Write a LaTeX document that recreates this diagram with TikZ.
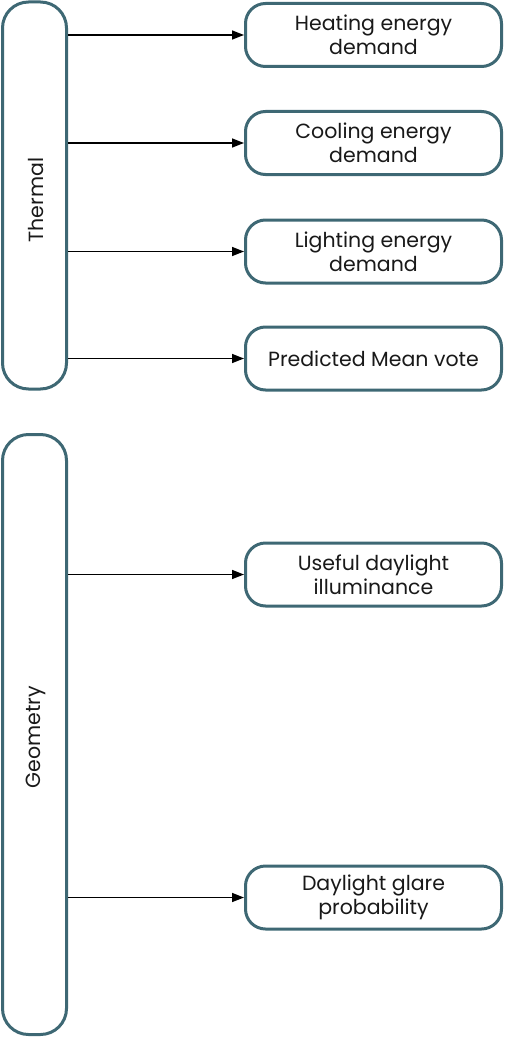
\documentclass[tikz,border=0pt]{standalone}
\usepackage{fontspec}
\setmainfont{Poppins}
\usetikzlibrary{arrows.meta}
\definecolor{frame}{RGB}{62,104,116}
\definecolor{ink}{RGB}{25,25,25}
\begin{document}
\begin{tikzpicture}[x=1pt,y=-1pt,
  groupbox/.style={draw=frame, line width=3pt, rounded corners=26pt,
    minimum width=64pt, inner sep=0pt, fill=white},
  metricbox/.style={draw=frame, line width=3pt, rounded corners=20pt,
    minimum width=256pt, minimum height=63pt, align=center, inner sep=0pt,
    font=\fontsize{20.5}{24}\selectfont, text=ink, fill=white},
  grouplabel/.style={rotate=90, font=\fontsize{20.5}{24}\selectfont, text=ink},
  link/.style={draw=black, line width=1.5pt, -{Triangle[length=12pt,width=9pt]}}]
\useasboundingbox (0,0) rectangle (504,1038);

% category columns
\node[groupbox, minimum height=387pt] (thermal) at (34.5,195.5) {};
\node[grouplabel] (thermallabel) at (36,200) {Thermal};
\node[groupbox, minimum height=600pt] (geometry) at (34.5,734.5) {};
\node[grouplabel] (geometrylabel) at (36,737) {Geometry};

% performance metrics
\node[metricbox] (heat) at (373.5,35) {Heating energy\\demand};
\node[metricbox] (cool) at (373.5,143) {Cooling energy\\demand};
\node[metricbox] (light) at (373.5,251.5) {Lighting energy\\demand};
\node[metricbox] (pmv) at (373.5,358.5) {Predicted Mean vote};
\node[metricbox] (udi) at (373.5,574.5) {Useful daylight\\illuminance};
\node[metricbox] (dgp) at (373.5,897.5) {Daylight glare\\probability};

% links from each category to its metrics
\foreach \m in {heat,cool,light,pmv}
  \draw[link] (thermal.east |- \m.west) -- (\m.west);
\foreach \m in {udi,dgp}
  \draw[link] (geometry.east |- \m.west) -- (\m.west);
\end{tikzpicture}
\end{document}
